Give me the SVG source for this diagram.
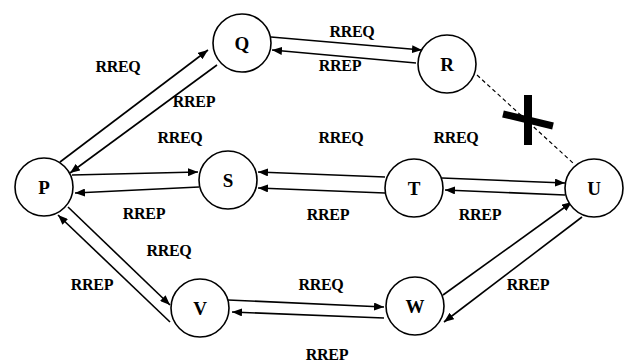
<svg xmlns="http://www.w3.org/2000/svg" width="630" height="363" viewBox="0 0 630 363">
<defs>
<marker id="ah" markerUnits="userSpaceOnUse" markerWidth="10" markerHeight="8" refX="10" refY="4" orient="auto">
<path d="M0,0 L10,4 L0,8 z" fill="#000"/>
</marker>
</defs>
<style>
.n{fill:#fff;stroke:#000;stroke-width:1.6}
.nl{font-family:'Liberation Serif','DejaVu Serif',serif;font-size:19px;font-weight:bold;text-anchor:middle;fill:#000}
.e{stroke:#000;stroke-width:1.6;fill:none;marker-end:url(#ah)}
.lb{font-family:'Liberation Serif','DejaVu Serif',serif;font-size:16px;font-weight:bold;text-anchor:middle;fill:#000;letter-spacing:-0.3px}
</style>
<rect width="630" height="363" fill="#fff"/>
<g id="connectors">
<line class="e" x1="60" y1="162" x2="208" y2="50"/>
<line class="e" x1="217" y1="65" x2="70" y2="173"/>
<line class="e" x1="271" y1="37" x2="422" y2="50"/>
<line class="e" x1="416" y1="63" x2="272" y2="50"/>
<line class="e" x1="72" y1="175" x2="198" y2="172"/>
<line class="e" x1="199" y1="187" x2="75" y2="193"/>
<line class="e" x1="385" y1="177" x2="258" y2="172"/>
<line class="e" x1="385" y1="193" x2="258" y2="188"/>
<line class="e" x1="442" y1="178" x2="565" y2="183"/>
<line class="e" x1="565" y1="195" x2="445" y2="190"/>
<line class="e" x1="68" y1="207" x2="170" y2="305"/>
<line class="e" x1="170" y1="322" x2="58" y2="215"/>
<line class="e" x1="228" y1="300" x2="384" y2="307"/>
<line class="e" x1="384" y1="318" x2="232" y2="312"/>
<line class="e" x1="443" y1="295" x2="572" y2="202"/>
<line class="e" x1="582" y1="217" x2="444" y2="322"/>
<line x1="477" y1="75" x2="573" y2="163" stroke="#000" stroke-width="1.2" stroke-dasharray="4,3"/>
<line x1="528" y1="95" x2="528" y2="145" stroke="#000" stroke-width="8"/>
<line x1="503" y1="114" x2="553" y2="126" stroke="#000" stroke-width="7"/>
</g>
<g id="labels">
<text class="lb" x="118" y="72">RREQ</text>
<text class="lb" x="194" y="107">RREP</text>
<text class="lb" x="352" y="37">RREQ</text>
<text class="lb" x="340" y="71">RREP</text>
<text class="lb" x="180" y="143">RREQ</text>
<text class="lb" x="341" y="143">RREQ</text>
<text class="lb" x="456" y="143">RREQ</text>
<text class="lb" x="144" y="219">RREP</text>
<text class="lb" x="328" y="220">RREP</text>
<text class="lb" x="480" y="220">RREP</text>
<text class="lb" x="169" y="256">RREQ</text>
<text class="lb" x="92" y="290">RREP</text>
<text class="lb" x="321" y="290">RREQ</text>
<text class="lb" x="528" y="290">RREP</text>
<text class="lb" x="327" y="360">RREP</text>
</g>
<g id="node-P"><circle class="n" cx="44" cy="187" r="29"/><text class="nl" x="44" y="194">P</text></g>
<g id="node-Q"><circle class="n" cx="242" cy="43" r="29"/><text class="nl" x="242" y="50">Q</text></g>
<g id="node-R"><circle class="n" cx="447" cy="64" r="29"/><text class="nl" x="447" y="71">R</text></g>
<g id="node-S"><circle class="n" cx="228" cy="180" r="29"/><text class="nl" x="228" y="187">S</text></g>
<g id="node-T"><circle class="n" cx="414" cy="188" r="29"/><text class="nl" x="414" y="195">T</text></g>
<g id="node-U"><circle class="n" cx="594" cy="188" r="29"/><text class="nl" x="594" y="195">U</text></g>
<g id="node-V"><circle class="n" cx="200" cy="308" r="29"/><text class="nl" x="200" y="315">V</text></g>
<g id="node-W"><circle class="n" cx="415" cy="306" r="29"/><text class="nl" x="415" y="313">W</text></g>
</svg>
